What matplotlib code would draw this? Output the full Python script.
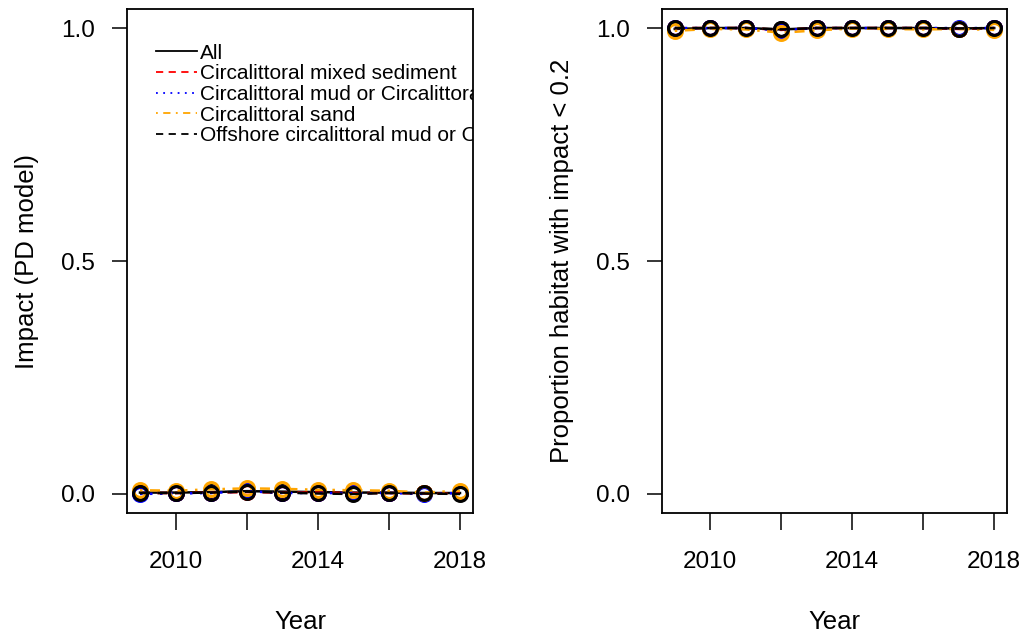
import matplotlib
matplotlib.use("Agg")
import matplotlib.pyplot as plt
import numpy as np

plt.rcParams["font.family"] = ["Liberation Sans", "DejaVu Sans"]

years = np.arange(2009, 2019)

habitats = [
    "All",
    "Circalittoral mixed sediment",
    "Circalittoral mud or Circalittoral sandy mud",
    "Circalittoral sand",
    "Offshore circalittoral mud or Offshore circalittoral sandy mud",
]
colours = ["black", "red", "blue", "orange", "black"]
linestyles = ["-", (0, (4, 3)), (0, (1, 3)), (0, (1, 3, 4, 3)), (0, (4, 3))]

# mean impact per year (PD model)
impact_all = [0.003, 0.003, 0.004, 0.006, 0.005, 0.004, 0.003, 0.003, 0.002, 0.002]
impact_mixed = [0.002, 0.002, 0.003, 0.004, 0.003, 0.003, 0.002, 0.002, 0.001, 0.001]
impact_mud = [0.000, 0.001, 0.002, 0.006, 0.002, 0.002, 0.002, 0.002, 0.000, 0.002]
impact_sand = [0.008, 0.007, 0.010, 0.012, 0.011, 0.009, 0.008, 0.007, 0.003, 0.007]
impact_offshore = [0.002, 0.002, 0.003, 0.005, 0.003, 0.001, 0.000, 0.002, 0.001, 0.000]

# proportion of habitat with impact < 0.2
prop_all = [0.998, 1.000, 1.000, 0.997, 1.000, 1.000, 1.000, 1.000, 0.999, 1.000]
prop_mixed = [1.000, 1.000, 1.000, 0.996, 1.000, 1.000, 1.000, 1.000, 0.998, 1.000]
prop_mud = [1.000, 1.000, 1.000, 0.995, 1.000, 1.000, 1.000, 1.000, 1.000, 1.000]
prop_sand = [0.994, 0.998, 0.997, 0.990, 0.995, 0.999, 0.998, 0.997, 0.998, 0.996]
prop_offshore = [1.000, 1.000, 1.000, 0.997, 1.000, 1.000, 1.000, 1.000, 0.999, 1.000]

impact = [impact_all, impact_mixed, impact_mud, impact_sand, impact_offshore]
prop = [prop_all, prop_mixed, prop_mud, prop_sand, prop_offshore]


def r_style_axes(ax, ylabel):
    span = years[-1] - years[0]
    ax.set_xlim(years[0] - 0.04 * span, years[-1] + 0.04 * span)
    ax.set_ylim(-0.04, 1.04)
    ax.set_xticks([2010, 2012, 2014, 2016, 2018])
    ax.set_xticklabels(["2010", "", "2014", "", "2018"])
    ax.set_yticks([0.0, 0.5, 1.0])
    ax.set_yticklabels(["0.0", "0.5", "1.0"])
    ax.tick_params(axis="x", length=12, width=1.1, pad=16, labelsize=17.5)
    ax.tick_params(axis="y", length=11, width=1.1, pad=12, labelsize=17.5)
    for spine in ax.spines.values():
        spine.set_linewidth(1.3)
    ax.set_xlabel("Year", fontsize=18.5, labelpad=26)
    ax.set_ylabel(ylabel, fontsize=18.5, labelpad=16)


def draw_series(ax, series):
    for vals, col, ls, name in zip(series, colours, linestyles, habitats):
        ax.plot(years, vals, color=col, linestyle=ls, linewidth=1.8, label=name)
        ax.plot(years, vals, linestyle="none", marker="o", markersize=10,
                markerfacecolor="none", markeredgecolor=col, markeredgewidth=2.2)


fig = plt.figure(figsize=(10.24, 6.37), dpi=100)
ax1 = fig.add_axes([127.2 / 1024, (637 - 512.6) / 637, 345.6 / 1024, 503.2 / 637])
ax2 = fig.add_axes([662 / 1024, (637 - 512.6) / 637, 345 / 1024, 503.2 / 637])

draw_series(ax1, impact)
r_style_axes(ax1, "Impact (PD model)")
leg = ax1.legend(loc="upper left", bbox_to_anchor=(0.082, 0.932), frameon=False,
                 fontsize=15, handlelength=2.0, handletextpad=0.15,
                 labelspacing=0.08, borderpad=0, borderaxespad=0)
for line in leg.get_lines():
    line.set_linewidth(1.3)
for txt in leg.get_texts():
    txt.set_clip_on(True)
    txt.set_clip_box(ax1.bbox)

draw_series(ax2, prop)
r_style_axes(ax2, "Proportion habitat with impact < 0.2")

fig.savefig("out.png", dpi=100)
